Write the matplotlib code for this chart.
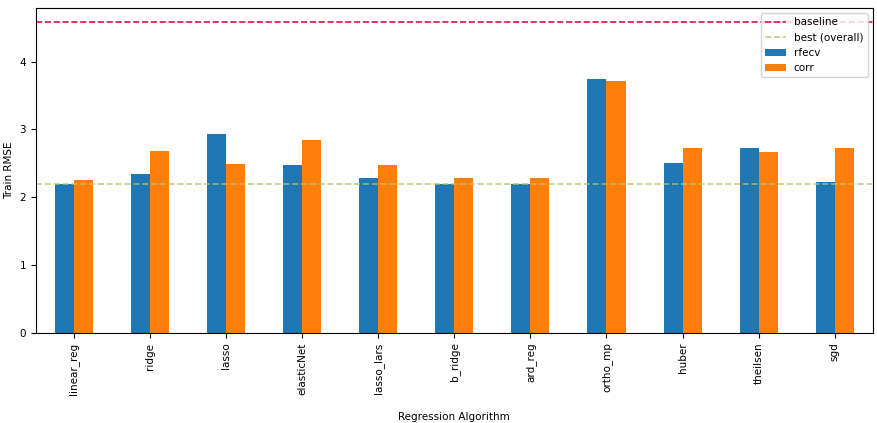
import numpy as np
import matplotlib; matplotlib.use("Agg")
import matplotlib.pyplot as plt

algos = ["linear_reg", "ridge", "lasso", "elasticNet", "lasso_lars", "b_ridge",
         "ard_reg", "ortho_mp", "huber", "theilsen", "sgd"]
rfecv = [2.19, 2.35, 2.94, 2.48, 2.28, 2.20, 2.20, 3.74, 2.51, 2.73, 2.22]
corr = [2.26, 2.68, 2.49, 2.85, 2.47, 2.28, 2.28, 3.72, 2.73, 2.66, 2.73]
baseline = 4.59
best = 2.19

plt.rcParams["font.size"] = 7.5
fig, ax = plt.subplots(figsize=(8.78, 4.23), dpi=100)
x = np.arange(len(algos)); w = 0.25
ax.axhline(baseline, color="crimson", ls="--", lw=1.2, label="baseline")
ax.axhline(best, color="#b5c46a", ls="--", lw=1.2, alpha=0.8, label="best (overall)")
ax.bar(x - w/2, rfecv, w, color="#1f77b4", label="rfecv")
ax.bar(x + w/2, corr, w, color="#ff7f0e", label="corr")
ax.set_xticks(x); ax.set_xticklabels(algos, rotation=90)
ax.set_xlim(-0.5, len(algos) - 0.5)
ax.set_ylim(0, 4.79)
ax.set_xlabel("Regression Algorithm", labelpad=12)
ax.set_ylabel("Train RMSE")
ax.legend(loc="upper right")
fig.subplots_adjust(left=0.041, right=0.994, top=0.981, bottom=0.213)
fig.savefig("out.png", dpi=100)
